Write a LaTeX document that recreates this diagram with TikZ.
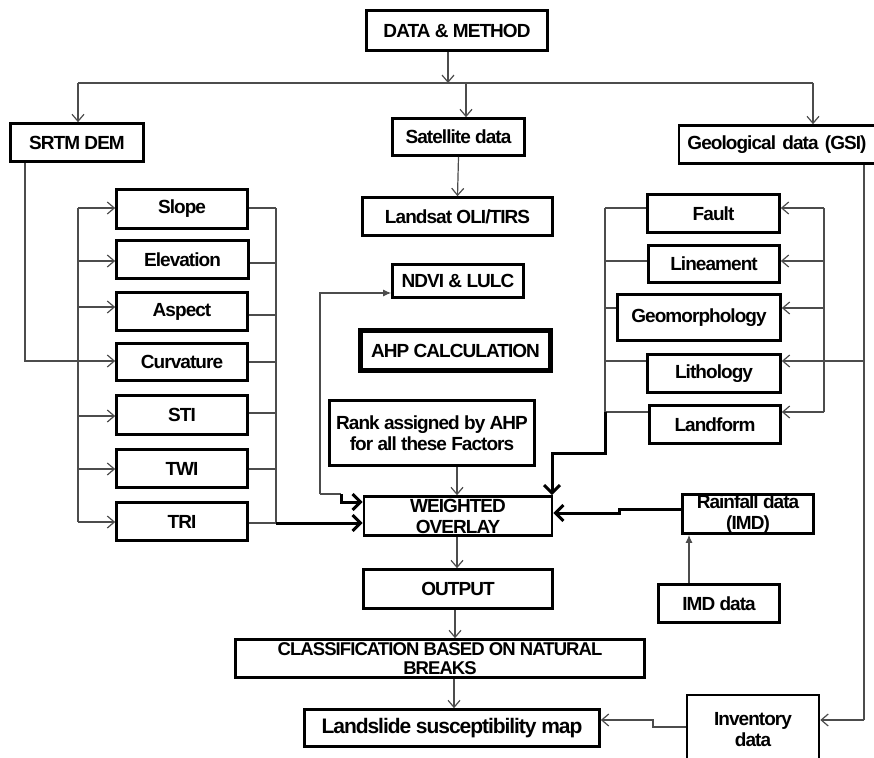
\documentclass[tikz,border=0pt]{standalone}
\usepackage{fontspec}
\setmainfont{Liberation Sans}[BoldFeatures={LetterSpace=-5}]
\usetikzlibrary{arrows.meta}
\tikzset{
  box/.style={draw=black, line width=2.6pt, fill=white, inner sep=0pt, align=center,
    font=\bfseries\fontsize{19}{21}\selectfont},
  conn/.style={draw=black!70, line width=1.2pt},
  arr/.style={conn, -{Straight Barb[length=7pt,width=12pt,line width=1.2pt]}},
  farr/.style={conn, -{Latex[length=8pt,width=7pt]}},
  tarr/.style={draw=black, line width=3pt, -{Straight Barb[length=8pt,width=16pt,line width=3pt]}},
  tline/.style={draw=black, line width=3pt},
}
\begin{document}
\begin{tikzpicture}[x=1pt,y=-1pt]
\useasboundingbox (0,0) rectangle (874,757);
\clip (0,0) rectangle (874,757);
% ---- boxes ----
\node[box, minimum width=181pt, minimum height=40pt] (dm) at (457,30.5) {DATA \& METHOD};
\node[box, minimum width=133pt, minimum height=38pt] (srtm) at (77,142.5) {SRTM DEM};
\node[box, minimum width=132pt, minimum height=37pt] (sat) at (458.5,137) {Satellite data};
\node[box, minimum width=200pt, minimum height=38pt, text width=200pt] (gsi) at (779,144.5) {\hspace*{-4pt}Geological data (GSI)};
\node[box, minimum width=190pt, minimum height=38pt] (landsat) at (457.5,216.5) {Landsat OLI/TIRS};
\node[box, minimum width=131pt, minimum height=39pt] (slope) at (182,209) {Slope};
\node[box, minimum width=132pt, minimum height=38pt] (elev) at (182.5,259.5) {Elevation};
\node[box, minimum width=131pt, minimum height=38pt] (aspect) at (182,311.5) {Aspect};
\node[box, minimum width=131pt, minimum height=37pt] (curv) at (182,362) {Curvature};
\node[box, minimum width=131pt, minimum height=39pt] (sti) at (182,415) {STI};
\node[box, minimum width=131pt, minimum height=38pt] (twi) at (182,468.5) {TWI};
\node[box, minimum width=131pt, minimum height=38pt] (tri) at (182,521.5) {TRI};
\node[box, minimum width=131pt, minimum height=33pt] (ndvi) at (458,281) {NDVI \& LULC};
\node[box, line width=5pt, minimum width=190pt, minimum height=40pt] (ahp) at (455.5,350.5) {AHP CALCULATION};
\node[box, minimum width=205pt, minimum height=65pt] (rank) at (432,433) {Rank assigned by AHP\\for all these Factors};
\node[box, minimum width=188pt, minimum height=39pt] (wo) at (458,516) {WEIGHTED\\OVERLAY};
\node[box, minimum width=132pt, minimum height=38pt] (fault) at (713.5,213.5) {Fault};
\node[box, minimum width=131pt, minimum height=37pt] (lin) at (714,264) {Lineament};
\node[box, minimum width=163pt, minimum height=46pt] (geo) at (699,317.5) {Geomorphology};
\node[box, minimum width=133pt, minimum height=38pt] (lith) at (714,373.5) {Lithology};
\node[box, minimum width=131pt, minimum height=38pt] (landf) at (715,424.5) {Landform};
\node[box, minimum width=131pt, minimum height=39pt] (rain) at (748,514) {Rainfall data\\(IMD)};
\node[box, minimum width=121pt, minimum height=38pt] (imd) at (719,603.5) {IMD data};
\node[box, minimum width=189pt, minimum height=39pt] (out) at (458,589) {OUTPUT};
\node[box, minimum width=409pt, minimum height=38pt, font=\bfseries\fontsize{18.5}{19}\selectfont] (cls) at (440,658.5) {CLASSIFICATION BASED ON NATURAL\\BREAKS};
\node[box, minimum width=295pt, minimum height=37pt, font=\bfseries\fontsize{21}{23}\selectfont] (lsm) at (452,728) {Landslide susceptibility map};
\node[box, minimum width=132pt, minimum height=70pt] (inv) at (753,730) {Inventory\\data};
% ---- top distribution ----
\coordinate (hL) at (78,83);
\coordinate (hM) at (448,83);
\coordinate (hS) at (466,83);
\coordinate (hR) at (813,83);
\draw[arr] ([xshift=-9pt]dm.south) -- (hM);
\draw[conn] (hL) -- (hR);
\draw[arr] (hL) -- (hL |- srtm.north);
\draw[arr] (hS) -- (hS |- sat.north);
\draw[arr] (hR) -- (hR |- gsi.north);
\draw[arr] (sat.south) -- (landsat.north);
% ---- SRTM derived factors ----
\coordinate (s1) at (25,361);
\draw[arr] (srtm.south -| s1) -- (s1) -- (s1 -| curv.west);
\coordinate (lbT) at (78,208);
\coordinate (lbB) at (78,522);
\draw[conn] (lbT) -- (lbB);
\foreach \n/\y in {slope/208, elev/261, aspect/307, sti/416, twi/469, tri/522}{
  \draw[arr] (78,\y) -- (\n.west |- 0,\y);
}
\coordinate (rbT) at (276,208);
\coordinate (rbB) at (276,523);
\draw[conn] (rbT) -- (rbB);
\foreach \n/\y in {slope/208, elev/263, aspect/315, curv/362, sti/413, twi/469, tri/523}{
  \draw[conn] (\n.east |- 0,\y) -- (276,\y);
}
\draw[tarr] (rbB) -- (rbB -| wo.west);
% ---- NDVI link ----
\coordinate (n1) at (320,293);
\coordinate (n2) at (320,494);
\coordinate (n3) at (341,494);
\coordinate (n4) at (341,502);
\draw[conn, -{Latex[length=8pt,width=7pt]}] (n2) -- (n1) -- (n1 -| ndvi.west);
\draw[conn] (n2) -- (n3);
\draw[tarr] (n3) -- (n4) -- (n4 -| wo.west);
% ---- rank ----
\draw[arr] ([xshift=25pt]rank.south) -- ([xshift=-1pt]wo.north);
% ---- geology ----
\coordinate (g1) at (864,361);
\coordinate (g2) at (864,720);
\coordinate (grb) at (824,361);
\draw[conn] (gsi.south -| g1) -- (g2);
\draw[arr] (g2) -- (g2 -| inv.east);
\draw[conn] (g1) -- (grb);
\draw[conn] (824,208) -- (824,412);
\foreach \n/\y in {fault/208, lin/261, geo/308, lith/361, landf/412}{
  \draw[arr] (824,\y) -- (\n.east |- 0,\y);
}
\draw[conn] (605,208) -- (605,412);
\foreach \n/\y in {fault/208, lin/261, geo/308, lith/361, landf/412}{
  \draw[conn] (\n.west |- 0,\y) -- (605,\y);
}
\coordinate (t1) at (605,412);
\coordinate (t2) at (605,453);
\coordinate (t3) at (552,453);
\draw[tarr] (t1) -- (t2) -- (t3) -- (t3 |- wo.north);
% ---- rainfall ----
\coordinate (r1) at (619,509);
\coordinate (r2) at (619,513);
\draw[tarr] (rain.west |- r1) -- (r1) -- (r2) -- (r2 -| wo.east);
\draw[farr] (imd.north -| 689,0) -- (rain.south -| 689,0);
% ---- bottom chain ----
\draw[arr] (wo.south -| 457,0) -- (out.north -| 457,0);
\draw[arr] (out.south -| 455,0) -- (cls.north -| 455,0);
\draw[arr] (cls.south -| 454,0) -- (lsm.north -| 454,0);
\coordinate (i1) at (653,727);
\coordinate (i2) at (653,720);
\draw[arr] (inv.west |- i1) -- (i1) -- (i2) -- (i2 -| lsm.east);
\end{tikzpicture}
\end{document}
